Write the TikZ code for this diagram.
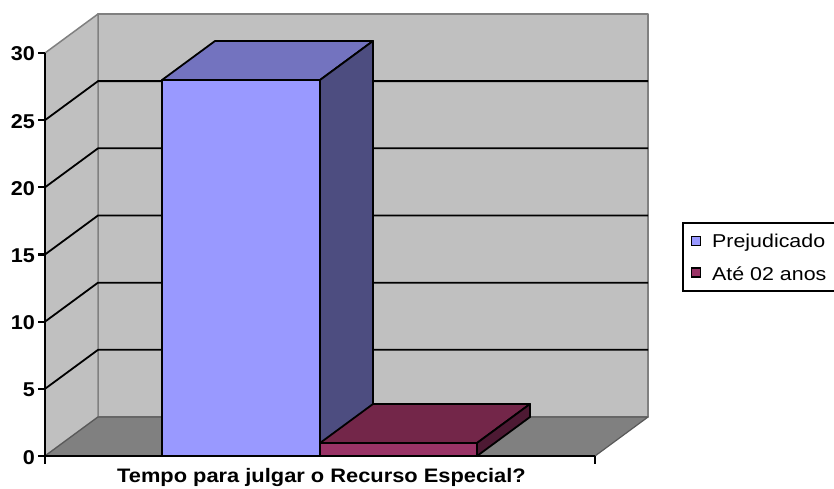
\documentclass[tikz,border=0pt]{standalone}
\usepackage{fontspec}
\setmainfont{Liberation Sans}
\usepackage{graphicx}
\definecolor{wallgray}{HTML}{C0C0C0}
\definecolor{floorgray}{HTML}{808080}
\definecolor{edgegray}{HTML}{808080}
\definecolor{bAfront}{HTML}{9999FF}
\definecolor{bAtop}{HTML}{7373BF}
\definecolor{bAside}{HTML}{4D4D80}
\definecolor{bBfront}{HTML}{993366}
\definecolor{bBtop}{HTML}{732649}
\definecolor{bBside}{HTML}{4D1933}
\newcommand{\axlab}[1]{\scalebox{1.08}[1]{\fontsize{20}{20}\selectfont\bfseries #1}}
\newcommand{\leglab}[1]{\scalebox{1.15}[1]{\fontsize{18.6}{20}\selectfont #1}}
\newcommand{\ttllab}[1]{\scalebox{1.12}[1]{\fontsize{19.5}{20}\selectfont\bfseries #1}}
\begin{document}
\begin{tikzpicture}[x=1pt,y=-1pt,
  wall/.style={fill=wallgray,draw=edgegray,line width=1.5pt,line join=round},
  floorface/.style={fill=floorgray,draw=gray!70!black,line width=1.2pt,line join=round},
  grid/.style={draw=black,line width=1.8pt},
  barface/.style={draw=black,line width=1.8pt,line join=round},
  axisline/.style={draw=black,line width=2.2pt},
  ticklab/.style={anchor=base east,inner sep=0pt},
  legsq/.style={draw=black,line width=1.5pt,minimum size=9pt,inner sep=0pt}]
\useasboundingbox (0,0) rectangle (834,489);
\fill[white] (0,0) rectangle (834,489);
% walls
\path[wall] (98,14) -- (648,14) -- (648,417) -- (98,417) -- cycle;
\path[wall] (45,53) -- (98,14) -- (98,417) -- (45,456) -- cycle;
\path[floorface] (45,456) -- (98,417) -- (648,417) -- (595,456) -- cycle;
% gridlines
\foreach \k in {1,...,5}{
  \pgfmathsetmacro{\yf}{456-67.17*\k}
  \pgfmathsetmacro{\yb}{417-67.17*\k}
  \draw[grid] (45,\yf) -- (98,\yb) -- (648,\yb);
}
% bar 1 (Prejudicado, 28)
\path[barface,fill=bAfront] (162,80) rectangle (320,456);
\path[barface,fill=bAtop] (162,80) -- (320,80) -- (373,41) -- (215,41) -- cycle;
\path[barface,fill=bAside] (320,80) -- (373,41) -- (373,417) -- (320,456) -- cycle;
% bar 2 (Ate 02 anos, 1)
\path[barface,fill=bBfront] (320,443) rectangle (477,456);
\path[barface,fill=bBtop] (320,443) -- (477,443) -- (530,404) -- (373,404) -- cycle;
\path[barface,fill=bBside] (477,443) -- (530,404) -- (530,417) -- (477,456) -- cycle;
% axes
\coordinate (o) at (45,456);
\coordinate (ytop) at (45,53);
\coordinate (xend) at (595,456);
\draw[axisline] (ytop) -- (o);
\draw[axisline] (o) -- (xend);
\draw[axisline] (45,456) -- (45,464);
\draw[axisline] (595,456) -- (595,464);
\foreach \v [count=\i from 0] in {0,5,10,15,20,25,30}{
  \pgfmathsetmacro{\yt}{456-67.17*\i}
  \draw[axisline] (38,\yt) -- (45,\yt);
  \node[ticklab] (t\i) at (35,\yt+8) {\axlab{\v}};
}
% axis title
\node[anchor=base,inner sep=0pt] (title) at (321.5,482) {\ttllab{Tempo para julgar o Recurso Especial?}};
% legend (its right side runs past the picture's edge)
\coordinate (lgNE) at (840,223);
\coordinate (lgSE) at (840,291);
\draw[draw=black,line width=1.8pt,line join=miter] (lgNE) -- (683,223) -- (683,291) -- (lgSE);
\node[legsq,fill=bAfront] (sqA) at (696,241) {};
\node[legsq,fill=bBfront] (sqB) at (696,272.5) {};
\node[anchor=base west,inner sep=0pt] (lA) at (712,247) {\leglab{Prejudicado}};
\node[anchor=base west,inner sep=0pt] (lB) at (712,280) {\leglab{Até 02 anos}};
\end{tikzpicture}
\end{document}
